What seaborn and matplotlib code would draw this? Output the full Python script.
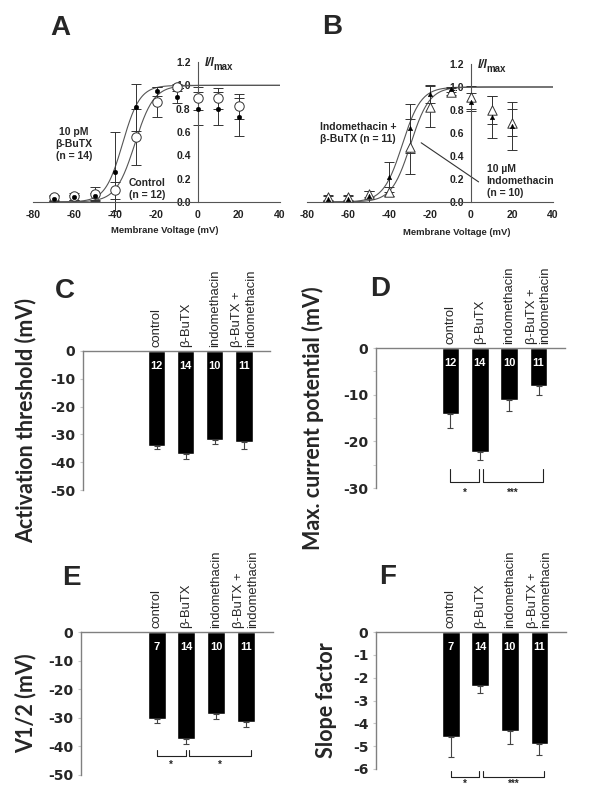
import matplotlib

matplotlib.use("Agg")

import numpy as np
import pandas as pd
import matplotlib.pyplot as plt
import seaborn as sns

sns.set_style("white")
plt.rcParams['font.family'] = ['Liberation Sans', 'DejaVu Sans']
plt.rcParams['axes.unicode_minus'] = False

# I/Imax vs membrane voltage (panels A and B)
voltages = [-70, -60, -50, -40, -30, -20, -10, 0, 10, 20]

ctrl_mean = [0.04, 0.05, 0.07, 0.10, 0.56, 0.86, 0.99, 0.89, 0.89, 0.82]
ctrl_err = [0.02, 0.03, 0.06, 0.07, 0.24, 0.13, 0.02, 0.10, 0.09, 0.11]
butx_mean = [0.03, 0.04, 0.05, 0.26, 0.81, 0.95, 0.90, 0.80, 0.80, 0.73]
butx_err = [0.02, 0.02, 0.03, 0.34, 0.20, 0.04, 0.05, 0.14, 0.14, 0.16]

indo_mean = [0.04, 0.04, 0.07, 0.09, 0.48, 0.83, 0.96, 0.91, 0.80, 0.69]
indo_err = [0.02, 0.02, 0.03, 0.04, 0.24, 0.18, 0.03, 0.10, 0.12, 0.12]
combo_mean = [0.03, 0.03, 0.05, 0.22, 0.64, 0.94, 0.98, 0.87, 0.74, 0.66]
combo_err = [0.02, 0.02, 0.05, 0.13, 0.21, 0.08, 0.02, 0.08, 0.18, 0.21]

# Boltzmann fit parameters (V1/2, slope) for the curves
fit_ctrl = (-30.5, 4.6)
fit_butx = (-36.5, 4.2)
fit_indo = (-29.5, 4.6)
fit_combo = (-33.5, 4.6)

# bar panels (C-F)
groups = ['control', 'β-BuTX', 'indomethacin', 'β-BuTX +\nindomethacin']

thresh_mean = [-34.0, -36.9, -32.1, -32.8]
thresh_err = [1.2, 2.1, 1.3, 2.4]
thresh_n = [12, 14, 10, 11]

maxpot_mean = [-14.2, -22.3, -11.1, -8.2]
maxpot_err = [2.9, 1.8, 2.4, 1.8]
maxpot_n = [12, 14, 10, 11]

vhalf_mean = [-30.4, -37.4, -28.8, -31.3]
vhalf_err = [1.5, 1.9, 1.5, 1.8]
vhalf_n = [7, 14, 10, 11]

slope_mean = [-4.58, -2.36, -4.32, -4.90]
slope_err = [0.88, 0.29, 0.58, 0.48]
slope_n = [7, 14, 10, 11]

sig_maxpot = [(0, 1, '*'), (1, 3, '***')]
sig_vhalf = [(0, 1, '*'), (1, 3, '*')]
sig_slope = [(0, 1, '*'), (1, 3, '***')]

W, H = 600, 788
fig = plt.figure(figsize=(W / 100, H / 100), dpi=100)


def px_axes(left, right, top, bottom):
    return fig.add_axes([left / W, 1 - bottom / H, (right - left) / W, (bottom - top) / H])


def boltzmann(v, fit):
    vh, k = fit
    return 1.0 / (1.0 + np.exp((vh - v) / k))


def iv_panel(ax, open_m, open_e, fill_m, fill_e, fit_open, fit_fill, marker, xlabel_x, xlabel_y):
    v_fit = np.linspace(-72, 40, 300)
    sns.lineplot(x=v_fit, y=boltzmann(v_fit, fit_fill), color='#555555', lw=0.8, ax=ax)
    sns.lineplot(x=v_fit, y=boltzmann(v_fit, fit_open), color='#555555', lw=0.8, ax=ax)
    ax.errorbar(voltages, open_m, yerr=open_e, fmt='none', ecolor='#333333',
                elinewidth=0.7, capsize=3.5, capthick=0.7, clip_on=False)
    ax.errorbar(voltages, fill_m, yerr=fill_e, fmt='none', ecolor='#333333',
                elinewidth=0.7, capsize=3.5, capthick=0.7, clip_on=False)
    sns.scatterplot(x=voltages, y=open_m, marker=marker, s=46, color='white',
                    edgecolor='#333333', linewidth=0.7, ax=ax, zorder=3, clip_on=False)
    sns.scatterplot(x=voltages, y=fill_m, marker=marker, s=11, color='black',
                    edgecolor='black', linewidth=0.3, ax=ax, zorder=4, clip_on=False)
    ax.set_xlim(-80, 40)
    ax.set_ylim(0, 1.2)
    ax.spines['left'].set_position(('data', 0))
    ax.spines['top'].set_visible(False)
    ax.spines['right'].set_visible(False)
    for s in ['left', 'bottom']:
        ax.spines[s].set_color('#555555')
        ax.spines[s].set_linewidth(0.8)
    ax.set_xticks(np.arange(-80, 41, 20))
    ax.set_yticks(np.round(np.arange(0, 1.21, 0.2), 1))
    ax.set_yticklabels([f'{t:.1f}' for t in np.arange(0, 1.21, 0.2)])
    ax.tick_params(axis='both', direction='in', length=3, color='#555555',
                   labelsize=7.5, labelcolor='#222222')
    ax.tick_params(axis='x', pad=6)
    ax.tick_params(axis='y', pad=5)
    for t in ax.get_xticklabels() + ax.get_yticklabels():
        t.set_fontweight('bold')
    ax.set_xlabel('Membrane Voltage (mV)', fontsize=6.8, fontweight='bold')
    ax.xaxis.set_label_coords(xlabel_x, xlabel_y)
    ax.set_ylabel('')
    # I/Imax label: italic "I/I" with a "max" subscript
    ax.text(3.4, 1.19, 'I/I', fontsize=8.5, fontstyle='italic', fontweight='bold',
            ha='left', va='center')
    ax.annotate('max', (3.4, 1.19), xytext=(6.3, -2.5), textcoords='offset points',
                fontsize=7, fontweight='bold', ha='left', va='center')


def bar_panel(ax, means, errs, counts, ymin, major, minor, ylabel, label_x, sig=None, sig_y=None):
    sns.barplot(x=groups, y=means, color='black', saturation=1, width=0.6,
                errorbar=None, ax=ax)
    ax.errorbar(range(len(groups)), means, yerr=[errs, [0] * len(errs)], fmt='none',
                ecolor='#444444', elinewidth=0.8, capsize=2.2, capthick=0.8)
    ax.set_xlim(-2.53, 3.9)
    ax.set_ylim(ymin, 0)
    ax.spines['bottom'].set_visible(False)
    ax.spines['right'].set_visible(False)
    for s in ['left', 'top']:
        ax.spines[s].set_color('#808080')
        ax.spines[s].set_linewidth(1.0)
    ax.xaxis.tick_top()
    ax.set_xticks(range(len(groups)))
    ax.set_xticklabels(groups, rotation=90, fontsize=9.4)
    ax.get_xticklabels()[-1].set_multialignment('left')
    ax.tick_params(axis='x', length=0, pad=3)
    ax.set_yticks(np.arange(ymin, 0.01, major))
    ax.set_yticklabels([f'{int(round(t))}' for t in np.arange(ymin, 0.01, major)])
    if minor:
        ax.set_yticks(np.arange(ymin, 0.01, minor), minor=True)
    ax.tick_params(axis='y', which='both', direction='out', length=2.5, color='#c8c8c8',
                   labelsize=10, pad=3, left=True)
    for t in ax.get_yticklabels():
        t.set_fontfamily('DejaVu Sans')
        t.set_fontweight('bold')
    ax.set_xlabel('')
    ax.set_ylabel(ylabel, fontsize=15.5, fontweight='bold', family='Lato')
    ax.yaxis.set_label_coords(label_x, 0.5)
    for i, n in enumerate(counts):
        ax.annotate(str(n), (i, 0), xytext=(0, -11), textcoords='offset points',
                    ha='center', va='center', color='white', fontweight='bold', fontsize=8)
    if sig:
        top, bot, star = sig_y
        for a, b, label in sig:
            x0 = a + (0.1 if a else 0.0)
            x1 = b + (0.15 if b == len(groups) - 1 else -0.03)
            ax.plot([x0, x0, x1, x1], [top, bot, bot, top], color='#222222', lw=0.8, clip_on=False)
            ax.text((x0 + x1) / 2, star, label, ha='center', va='center', fontsize=7,
                    fontweight='bold', clip_on=False)


# panel A
axA = px_axes(33, 280, 62, 202)
iv_panel(axA, ctrl_mean, ctrl_err, butx_mean, butx_err, fit_ctrl, fit_butx, 'o', 0.534, -0.17)
axA.text(-60, 0.50, '10 pM\nβ-BuTX\n(n = 14)', ha='center', va='center', fontsize=7.5,
         fontweight='bold', linespacing=1.25)
axA.text(-33.5, 0.11, 'Control\n(n = 12)', ha='left', va='center', fontsize=7.5,
         fontweight='bold', linespacing=1.25)

# panel B
axB = px_axes(307, 553, 64, 202)
iv_panel(axB, indo_mean, indo_err, combo_mean, combo_err, fit_indo, fit_combo, '^', 0.61, -0.19)
axB.text(-55, 0.60, 'Indomethacin +\nβ-BuTX (n = 11)', ha='center', va='center', fontsize=7.5,
         fontweight='bold', linespacing=1.25)
axB.plot([-24.3, 3.7], [0.515, 0.175], color='#333333', lw=0.8)
axB.text(7.6, 0.18, '10 µM\nIndomethacin\n(n = 10)', ha='left', va='center', fontsize=7.5,
         fontweight='bold', linespacing=1.25)

# panels C-F
axC = px_axes(83, 270, 351, 490)
bar_panel(axC, thresh_mean, thresh_err, thresh_n, -50, 10, None,
          'Activation threshold (mV)', -0.25)

axD = px_axes(376, 565, 348, 488)
bar_panel(axD, maxpot_mean, maxpot_err, maxpot_n, -30, 10, 5,
          'Max. current potential (mV)', -0.275, sig_maxpot, (-26.0, -28.8, -31.0))

axE = px_axes(81, 273, 632, 775)
bar_panel(axE, vhalf_mean, vhalf_err, vhalf_n, -50, 10, None,
          'V1/2 (mV)', -0.23, sig_vhalf, (-41.2, -43.3, -46.3))

axF = px_axes(376, 566, 632, 769)
bar_panel(axF, slope_mean, slope_err, slope_n, -6, 1, None,
          'Slope factor', -0.205, sig_slope, (-6.07, -6.33, -6.66))

for letter, x, y in [('A', 60, 28), ('B', 332, 27), ('C', 65, 291),
                     ('D', 380, 289), ('E', 71, 578), ('F', 388, 577)]:
    fig.text(x / W, 1 - y / H, letter, fontsize=20, fontweight='bold', ha='center', va='center')

fig.savefig('out.png', dpi=100)
